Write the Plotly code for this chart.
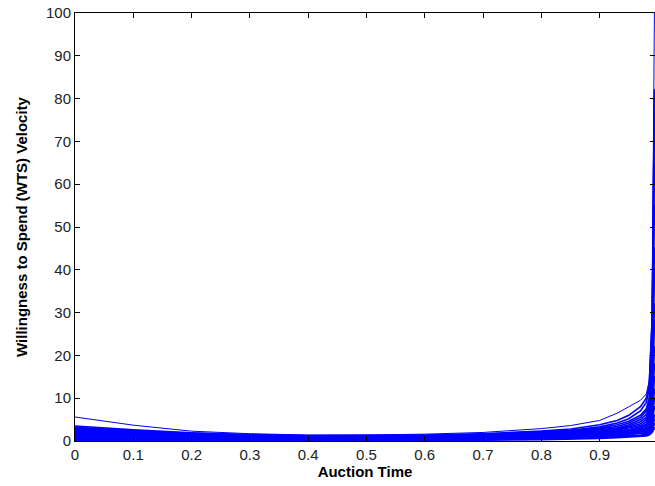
import plotly.graph_objects as go

# Auction time grid
auction_time = [0, 0.05, 0.1, 0.2, 0.3, 0.4, 0.5, 0.6, 0.7, 0.8, 0.85, 0.9, 0.93, 0.95, 0.97, 0.98, 0.985, 0.99, 0.994, 1.0]

# WTS velocity curves
curve_a = [5.6, 4.6, 3.7, 2.3, 1.7, 1.4, 1.4, 1.6, 2.0, 2.9, 3.6, 4.8, 6.5, 8.0, 9.5, 11, 14, 30, 100, 100]
curve_b = [3.5, 3.0, 2.6, 1.9, 1.5, 1.3, 1.3, 1.4, 1.7, 2.3, 2.8, 3.8, 4.8, 6.0, 8.0, 10, 13, 28, 82, 82]
curve_c = [3.2, 2.8, 2.4, 1.8, 1.4, 1.2, 1.2, 1.3, 1.6, 2.1, 2.5, 3.3, 4.2, 5.2, 7.0, 9.0, 12, 25, 80, 80]
curve_d = [3.0, 2.6, 2.3, 1.7, 1.3, 1.1, 1.1, 1.2, 1.5, 2.0, 2.4, 3.0, 3.8, 4.6, 6.0, 7.5, 10, 22, 75, 75]
curve_e = [2.8, 2.5, 2.2, 1.6, 1.2, 1.0, 1.0, 1.1, 1.4, 1.9, 2.2, 2.8, 3.4, 4.2, 5.5, 7.0, 9, 18, 65, 65]
curve_f = [2.6, 2.3, 2.0, 1.5, 1.1, 0.9, 0.9, 1.0, 1.3, 1.8, 2.1, 2.6, 3.1, 3.8, 5.0, 6.2, 8, 16, 55, 55]
curve_g = [2.5, 2.2, 1.9, 1.4, 1.0, 0.85, 0.85, 0.95, 1.2, 1.7, 2.0, 2.4, 2.9, 3.5, 4.5, 5.5, 7.5, 14, 45, 45]
curve_h = [2.3, 2.0, 1.8, 1.3, 0.95, 0.8, 0.8, 0.9, 1.15, 1.6, 1.9, 2.3, 2.7, 3.2, 4.0, 5.0, 6.5, 12, 40, 40]
curve_i = [2.2, 1.9, 1.7, 1.2, 0.9, 0.75, 0.75, 0.85, 1.1, 1.5, 1.8, 2.2, 2.5, 3.0, 3.6, 4.5, 6, 10, 32, 32]
curve_j = [2.0, 1.8, 1.6, 1.1, 0.85, 0.7, 0.7, 0.8, 1.0, 1.4, 1.7, 2.0, 2.3, 2.7, 3.3, 4.0, 5.2, 9, 28, 28]
curve_k = [1.9, 1.7, 1.5, 1.05, 0.8, 0.65, 0.65, 0.75, 0.95, 1.3, 1.6, 1.9, 2.2, 2.5, 3.0, 3.6, 4.6, 8, 22, 22]
curve_l = [1.8, 1.6, 1.4, 1.0, 0.75, 0.6, 0.6, 0.7, 0.9, 1.25, 1.5, 1.8, 2.0, 2.3, 2.7, 3.2, 4.0, 7, 18, 18]
curve_m = [1.6, 1.4, 1.3, 0.9, 0.7, 0.55, 0.55, 0.65, 0.85, 1.2, 1.4, 1.7, 1.9, 2.1, 2.5, 2.9, 3.5, 6, 15, 15]
curve_n = [1.5, 1.3, 1.2, 0.85, 0.65, 0.5, 0.5, 0.6, 0.8, 1.1, 1.3, 1.6, 1.8, 2.0, 2.3, 2.6, 3.1, 5, 12, 12]
curve_o = [1.3, 1.2, 1.1, 0.8, 0.6, 0.45, 0.45, 0.55, 0.75, 1.0, 1.2, 1.5, 1.7, 1.9, 2.1, 2.4, 2.8, 4.5, 10, 10]
curve_p = [1.2, 1.1, 1.0, 0.7, 0.55, 0.4, 0.4, 0.5, 0.7, 0.95, 1.1, 1.4, 1.6, 1.8, 2.0, 2.2, 2.5, 4.0, 8, 8]
curve_q = [1.0, 0.9, 0.85, 0.6, 0.5, 0.35, 0.35, 0.45, 0.6, 0.85, 1.0, 1.3, 1.5, 1.6, 1.8, 2.0, 2.2, 3.5, 6, 6]
curve_r = [0.8, 0.75, 0.7, 0.5, 0.4, 0.3, 0.3, 0.4, 0.5, 0.75, 0.9, 1.2, 1.4, 1.5, 1.6, 1.8, 2.0, 3.0, 5, 5]
curve_s = [0.6, 0.55, 0.5, 0.4, 0.3, 0.25, 0.25, 0.3, 0.4, 0.6, 0.8, 1.0, 1.2, 1.3, 1.4, 1.6, 1.8, 2.5, 4, 4]
curve_u = [0.4, 0.35, 0.3, 0.25, 0.2, 0.15, 0.15, 0.2, 0.3, 0.45, 0.6, 0.8, 1.0, 1.1, 1.2, 1.4, 1.6, 2.2, 3, 3]
curve_v = [0.2, 0.2, 0.15, 0.1, 0.1, 0.1, 0.1, 0.1, 0.2, 0.3, 0.4, 0.6, 0.8, 0.9, 1.0, 1.2, 1.4, 2.0, 3, 3]

bulk_curves = [curve_b, curve_c, curve_d, curve_e, curve_f, curve_g, curve_h,
               curve_i, curve_j, curve_k, curve_l, curve_m, curve_n, curve_o, curve_p,
               curve_q, curve_r, curve_s, curve_u, curve_v]

x_ticks = [0, 0.1, 0.2, 0.3, 0.4, 0.5, 0.6, 0.7, 0.8, 0.9]
y_ticks = [0, 10, 20, 30, 40, 50, 60, 70, 80, 90, 100]

fig = go.Figure()
for c in bulk_curves:
    fig.add_trace(go.Scatter(x=auction_time, y=c, mode="lines",
                             line=dict(color="rgb(0,0,255)", width=1.6),
                             showlegend=False, hoverinfo="skip"))
fig.add_trace(go.Scatter(x=auction_time, y=curve_a, mode="lines",
                         line=dict(color="rgb(0,0,255)", width=1),
                         showlegend=False, hoverinfo="skip"))

font = "Liberation Sans, Arial, sans-serif"
axis_common = dict(showline=True, linecolor="black", linewidth=1, mirror="ticks",
                   ticks="inside", ticklen=5, tickcolor="black", showgrid=False,
                   zeroline=False, tickfont=dict(family=font, size=15, color="#222"))

fig.update_layout(
    width=655, height=486,
    margin=dict(l=75, r=0, t=13, b=45),
    plot_bgcolor="white", paper_bgcolor="white",
    xaxis=dict(range=[0, 0.995], tickvals=x_ticks,
               title=dict(text="<b>Auction Time</b>", font=dict(family=font, size=15, color="black"), standoff=2),
               **axis_common),
    yaxis=dict(range=[0, 100], tickvals=y_ticks,
               title=dict(text="<b>Willingness to Spend (WTS) Velocity</b>", font=dict(family=font, size=15, color="black"), standoff=14),
               **axis_common),
)

fig.write_html("out.html", config={"displayModeBar": False},
               post_script="document.body.style.margin='0';document.body.style.overflow='hidden';")
